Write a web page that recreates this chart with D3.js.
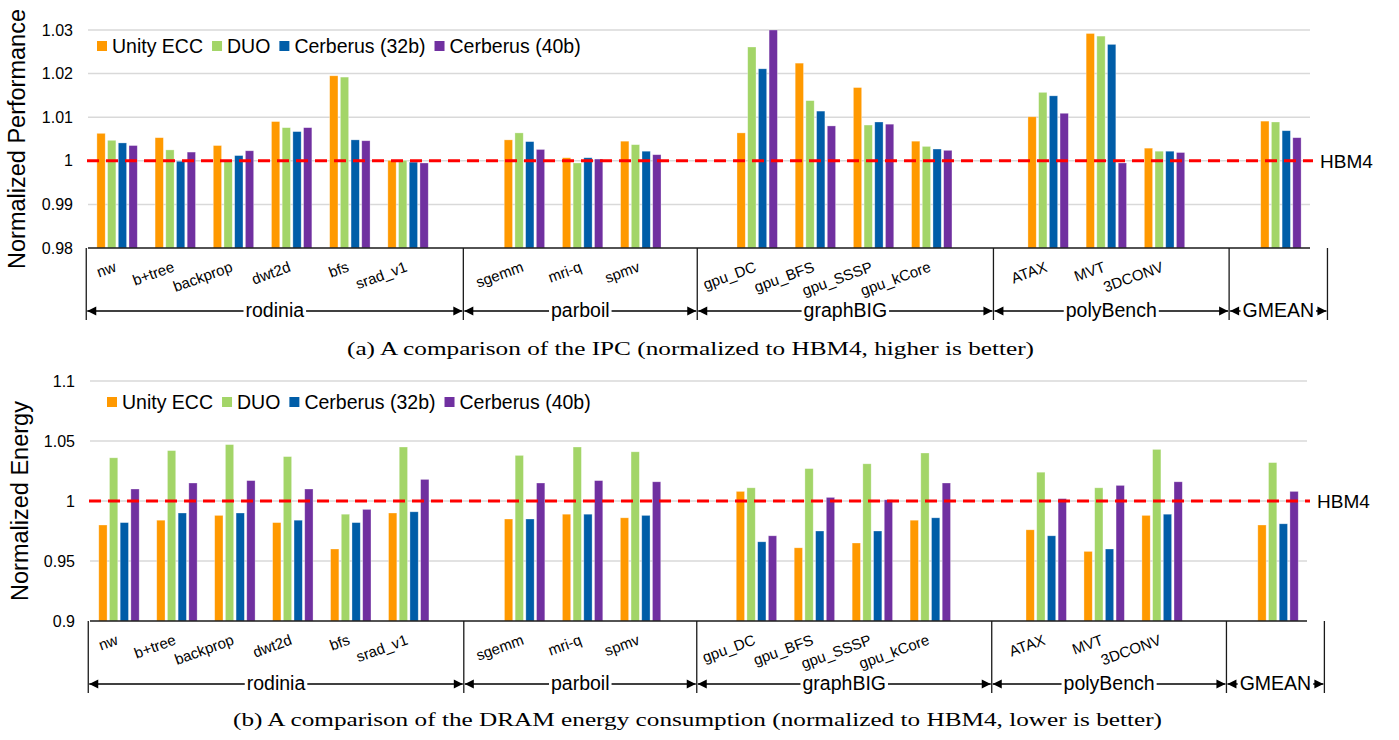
<!DOCTYPE html>
<html>
<head>
<meta charset="utf-8">
<script src="https://cdn.jsdelivr.net/npm/d3@7"></script>
<style>
  body { margin: 0; background: #fff; }
  text { font-family: Arial, "Liberation Sans", sans-serif; fill: #000; }
  .caption { font-family: "Times New Roman", "Liberation Serif", serif; }
</style>
</head>
<body>
<div class="vis-holder"></div>
<script>
// benchmark suites and their benchmarks (GMEAN has no label under its bars)
var groupNames = ["rodinia", "parboil", "graphBIG", "polyBench", "GMEAN"];
var benchmarks = [
  ["nw", "b+tree", "backprop", "dwt2d", "bfs", "srad_v1"],
  ["sgemm", "mri-q", "spmv"],
  ["gpu_DC", "gpu_BFS", "gpu_SSSP", "gpu_kCore"],
  ["ATAX", "MVT", "3DCONV"],
  [""]
];
var seriesNames = ["Unity ECC", "DUO", "Cerberus (32b)", "Cerberus (40b)"];
var seriesColors = ["#ff9900", "#a3d568", "#005da8", "#7030a0"];

// (a) normalized IPC, one value per benchmark in order
var ipcUnity = [1.0063, 1.0053, 1.0035, 1.0090, 1.0195, 1.0001, 1.0048, 1.0007, 1.0045, 1.0064, 1.0224, 1.0168, 1.0045, 1.0101, 1.0292, 1.0029, 1.0091];
var ipcDuo   = [1.0047, 1.0025, 0.9998, 1.0076, 1.0192, 1.0001, 1.0064, 0.9995, 1.0037, 1.0261, 1.0138, 1.0082, 1.0033, 1.0157, 1.0286, 1.0022, 1.0089];
var ipcC32   = [1.0041, 0.9999, 1.0012, 1.0067, 1.0048, 0.9997, 1.0044, 1.0007, 1.0022, 1.0211, 1.0114, 1.0089, 1.0027, 1.0149, 1.0267, 1.0022, 1.0069];
var ipcC40   = [1.0035, 1.0020, 1.0023, 1.0076, 1.0046, 0.9995, 1.0026, 1.0004, 1.0014, 1.0300, 1.0080, 1.0084, 1.0024, 1.0109, 0.9995, 1.0019, 1.0053];

// (b) normalized DRAM energy
var energyUnity = [0.980, 0.984, 0.988, 0.982, 0.960, 0.990, 0.985, 0.989, 0.986, 1.008, 0.961, 0.965, 0.984, 0.976, 0.958, 0.988, 0.980];
var energyDuo   = [1.036, 1.042, 1.047, 1.037, 0.989, 1.045, 1.038, 1.045, 1.041, 1.011, 1.027, 1.031, 1.040, 1.024, 1.011, 1.043, 1.032];
var energyC32   = [0.982, 0.990, 0.990, 0.984, 0.982, 0.991, 0.985, 0.989, 0.988, 0.966, 0.975, 0.975, 0.986, 0.971, 0.960, 0.989, 0.981];
var energyC40   = [1.010, 1.015, 1.017, 1.010, 0.993, 1.018, 1.015, 1.017, 1.016, 0.971, 1.003, 1.001, 1.015, 1.002, 1.013, 1.016, 1.008];

var ipcTicks = [0.98, 0.99, 1, 1.01, 1.02, 1.03];
var energyTicks = [0.9, 0.95, 1, 1.05, 1.1];

var width = 1399;
var height = 740;

var svg = d3.select(".vis-holder")
  .append("svg")
  .attr("width", width)
  .attr("height", height);

// slots on the x axis: benchmarks with one empty slot between suites
var slots = [];
var benchIndex = 0;
benchmarks.forEach(function(list, g) {
  list.forEach(function(name) {
    slots.push({ key: "b" + benchIndex, label: name, index: benchIndex });
    benchIndex++;
  });
  if (g < benchmarks.length - 1) slots.push({ key: "gap" + g, label: null });
});
var barSlots = slots.filter(function(s) { return s.label !== null; });

// suite boundaries in slot units (hand-placed shapes in the original)
var groupEdges = [-0.03, 6.45, 10.47, 15.56, 19.61, 21.3];

function drawPanel(opt) {
  var g = svg.append("g");
  var values = opt.values;

  var x = d3.scaleBand()
    .domain(slots.map(function(s) { return s.key; }))
    .range([opt.left, opt.right]);
  var xSlot = d3.scaleLinear().domain([0, slots.length]).range([opt.left, opt.right]);
  var xInner = d3.scaleBand()
    .domain(seriesNames)
    .range([0, 40.4])
    .paddingInner(0.224);
  var inset = (x.bandwidth() - 40.4) / 2;

  var y = d3.scaleLinear()
    .domain([opt.ticks[0], opt.ticks[opt.ticks.length - 1]])
    .range([opt.bottom, opt.top]);

  // gridlines
  g.selectAll(".grid")
    .data(opt.ticks.slice(1))
    .enter().append("line")
    .attr("x1", opt.left).attr("x2", opt.right)
    .attr("y1", function(d) { return y(d); })
    .attr("y2", function(d) { return y(d); })
    .attr("stroke", "#d9d9d9")
    .attr("stroke-width", 1.5);

  // y axis labels
  var yAxis = d3.axisLeft(y).tickValues(opt.ticks).tickSize(0).tickPadding(0)
    .tickFormat(function(d) { return d3.format("")(+d.toFixed(2)); });
  var ya = g.append("g")
    .attr("transform", "translate(" + opt.labelRight + ",0)")
    .call(yAxis);
  ya.select(".domain").remove();
  ya.selectAll("text")
    .style("font-size", "16px")
    .style("font-family", "Arial, 'Liberation Sans', sans-serif")
    .attr("fill", "#000");

  // bars
  var groupsSel = g.selectAll(".bench")
    .data(barSlots)
    .enter().append("g")
    .attr("transform", function(d) { return "translate(" + (x(d.key) + inset) + ",0)"; });

  groupsSel.selectAll("rect")
    .data(function(d) {
      return seriesNames.map(function(s, i) { return { series: s, i: i, value: values[i][d.index] }; });
    })
    .enter().append("rect")
    .attr("x", function(d) { return xInner(d.series); })
    .attr("width", xInner.bandwidth())
    .attr("y", function(d) { return y(d.value); })
    .attr("height", function(d) { return y.range()[0] - y(d.value); })
    .attr("fill", function(d) { return seriesColors[d.i]; })
    .attr("stroke", "#ffffff")
    .attr("stroke-opacity", 0.45)
    .attr("stroke-width", 0.7);

  // x axis baseline
  g.append("line")
    .attr("x1", opt.left).attr("x2", opt.right)
    .attr("y1", opt.bottom).attr("y2", opt.bottom)
    .attr("stroke", "#1a1a1a")
    .attr("stroke-width", 1.6);

  // HBM4 reference line
  g.append("line")
    .attr("x1", opt.left - 1).attr("x2", opt.right + 3)
    .attr("y1", y(1)).attr("y2", y(1))
    .attr("stroke", "#ff0000")
    .attr("stroke-width", 3)
    .attr("stroke-dasharray", "12,7");
  g.append("text")
    .attr("x", opt.right + 10)
    .attr("y", y(1))
    .attr("dy", "0.36em")
    .style("font-size", "19px")
    .text("HBM4");

  // benchmark labels, rotated
  groupsSel.append("text")
    .attr("transform", function() {
      return "translate(" + (x.bandwidth() / 2 - inset) + "," + (opt.bottom + 23) + ") rotate(-20)";
    })
    .style("text-anchor", "end")
    .style("font-size", "15px")
    .text(function(d) { return d.label; });

  // suite separators
  var edgeX = groupEdges.map(function(e) { return xSlot(e); });
  g.selectAll(".sep")
    .data(edgeX)
    .enter().append("line")
    .attr("x1", function(d) { return d; }).attr("x2", function(d) { return d; })
    .attr("y1", opt.bottom).attr("y2", opt.bottom + 72)
    .attr("stroke", "#1a1a1a")
    .attr("stroke-width", 1.3);

  // suite spans with arrows
  var arrowY = opt.bottom + 63;
  groupNames.forEach(function(name, i) {
    var x0 = edgeX[i] + 1, x1 = edgeX[i + 1] - 1;
    var cx = (x0 + x1) / 2;
    g.append("line")
      .attr("x1", x0).attr("x2", x1)
      .attr("y1", arrowY).attr("y2", arrowY)
      .attr("stroke", "#000").attr("stroke-width", 1.3);
    var t = g.append("text")
      .attr("x", cx).attr("y", arrowY)
      .attr("dy", "0.33em")
      .style("text-anchor", "middle")
      .style("font-size", "19.5px")
      .text(name);
    var w = t.node().getComputedTextLength();
    g.insert("rect", function() { return t.node(); })
      .attr("x", cx - w / 2 - 2).attr("y", arrowY - 5)
      .attr("width", w + 4).attr("height", 10)
      .attr("fill", "#fff");
    g.append("path")
      .attr("d", "M" + x0 + "," + arrowY + "l9,-4.5v9z")
      .attr("fill", "#000");
    g.append("path")
      .attr("d", "M" + x1 + "," + arrowY + "l-9,-4.5v9z")
      .attr("fill", "#000");
  });

  // legend
  var lx = opt.legendX;
  seriesNames.forEach(function(s, i) {
    g.append("rect")
      .attr("x", lx).attr("y", opt.legendY - 5)
      .attr("width", 10).attr("height", 10)
      .attr("fill", seriesColors[i]);
    var t = g.append("text")
      .attr("x", lx + 15).attr("y", opt.legendY)
      .attr("dy", "0.36em")
      .style("font-size", "19.5px")
      .text(s);
    lx = lx + 15 + t.node().getComputedTextLength() + 9;
  });

  // y axis title
  g.append("text")
    .attr("transform", "translate(" + opt.titleX + "," + ((opt.top + opt.bottom) / 2) + ") rotate(-90)")
    .style("text-anchor", "middle")
    .style("font-size", "23.5px")
    .text(opt.yTitle);

  // caption
  g.append("text")
    .attr("class", "caption")
    .attr("x", opt.captionX0)
    .attr("y", opt.captionY)
    .attr("textLength", opt.captionW)
    .attr("lengthAdjust", "spacingAndGlyphs")
    .style("font-size", "19.5px")
    .text(opt.caption);
}

drawPanel({
  values: [ipcUnity, ipcDuo, ipcC32, ipcC40],
  ticks: ipcTicks,
  left: 88, right: 1310, top: 30, bottom: 248,
  labelRight: 73,
  legendX: 97, legendY: 46,
  titleX: 25,
  yTitle: "Normalized Performance",
  caption: "(a) A comparison of the IPC (normalized to HBM4, higher is better)",
  captionX0: 347, captionW: 687, captionY: 355
});

drawPanel({
  values: [energyUnity, energyDuo, energyC32, energyC40],
  ticks: energyTicks,
  left: 90, right: 1307, top: 381, bottom: 621,
  labelRight: 75,
  legendX: 107, legendY: 402,
  titleX: 28,
  yTitle: "Normalized Energy",
  caption: "(b) A comparison of the DRAM energy consumption (normalized to HBM4, lower is better)",
  captionX0: 233, captionW: 929, captionY: 726
});
</script>
</body>
</html>
